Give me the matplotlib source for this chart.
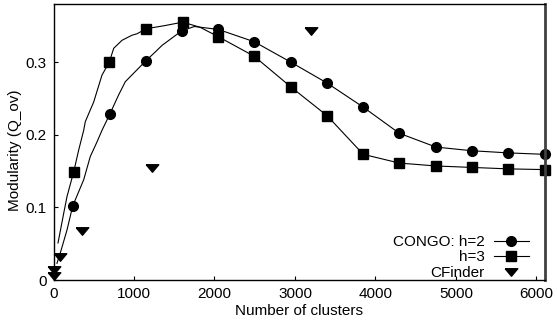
import matplotlib
matplotlib.use("Agg")
import matplotlib.pyplot as plt

## marker points
h2_x = [239, 698, 1149, 1592, 2047, 2494, 2947, 3401, 3848, 4296, 4752, 5195, 5650, 6106]
h2_y = [0.102, 0.228, 0.302, 0.343, 0.345, 0.328, 0.300, 0.271, 0.238, 0.202, 0.183, 0.178, 0.175, 0.173]

h3_x = [251, 693, 1153, 1605, 2047, 2494, 2947, 3401, 3848, 4296, 4752, 5195, 5650, 6106]
h3_y = [0.149, 0.300, 0.346, 0.355, 0.335, 0.308, 0.266, 0.226, 0.173, 0.161, 0.157, 0.155, 0.153, 0.152]

cf_x = [0, 10, 81, 350, 1227, 3195]
cf_y = [0.005, 0.014, 0.031, 0.067, 0.154, 0.343]

## line traces (the curves drawn between the markers)
h2_line_x = [43, 84, 168, 239, 375, 457, 540, 602, 698, 810, 892, 1016, 1149, 1265, 1348, 1592,
             1750, 2047, 2494, 2947, 3401, 3848, 4296, 4752, 5195, 5650, 6106]
h2_line_y = [0.023, 0.037, 0.069, 0.102, 0.138, 0.170, 0.190, 0.206, 0.228, 0.255, 0.273, 0.287, 0.302, 0.314, 0.323, 0.343,
             0.349, 0.345, 0.328, 0.300, 0.271, 0.238, 0.202, 0.183, 0.178, 0.175, 0.173]

h3_line_x = [56, 127, 168, 251, 313, 375, 395, 499, 602, 693, 748, 851, 975, 1037, 1153, 1370, 1605,
             1820, 2047, 2494, 2947, 3401, 3848, 4296, 4752, 5195, 5650, 6106]
h3_line_y = [0.051, 0.092, 0.115, 0.149, 0.179, 0.206, 0.218, 0.245, 0.282, 0.300, 0.319, 0.330, 0.337, 0.339, 0.346, 0.350, 0.355,
             0.348, 0.335, 0.308, 0.266, 0.226, 0.173, 0.161, 0.157, 0.155, 0.153, 0.152]

x_ticks = [0, 1000, 2000, 3000, 4000, 5000, 6000]
y_ticks = [0, 0.1, 0.2, 0.3]
y_tick_labels = ["0", "0.1", "0.2", "0.3"]

plt.rcParams['font.family'] = ['Liberation Sans', 'DejaVu Sans']
plt.rcParams['font.size'] = 11

## flat down-pointing triangle like the gnuplot one
tri = [(-1, 0.6), (1, 0.6), (0, -0.6), (-1, 0.6)]

fig = plt.figure(figsize=(5.57, 3.21), dpi=100)
ax = fig.add_axes([53.5/557, 41/321, (545-53.5)/557, 276/321])

ax.plot(h2_line_x, h2_line_y, color="black", lw=0.8)
ax.plot(h3_line_x, h3_line_y, color="black", lw=0.8)
ax.plot(h2_x, h2_y, "ko", markersize=7, clip_on=False)
ax.plot(h3_x, h3_y, "ks", markersize=6.5, clip_on=False)
ax.plot(cf_x, cf_y, "k", marker=tri, ls="none", markersize=9, clip_on=False)

## legend proxies
l1, = ax.plot([], [], "k-o", lw=0.8, markersize=7)
l2, = ax.plot([], [], "k-s", lw=0.8, markersize=6.5)
l3, = ax.plot([], [], "k", marker=tri, ls="none", markersize=9)
leg = ax.legend([l1, l2, l3], ["CONGO: h=2", "h=3", "CFinder"], loc="lower right",
                bbox_to_anchor=(0.967, 0.0), frameon=False, markerfirst=False,
                handlelength=2.3, handletextpad=0.6, labelspacing=0.1,
                borderaxespad=0, borderpad=0, fontsize=11)
for t in leg.get_texts():
    t.set_ha("right")
leg._legend_box.align = "right"

ax.set_xlim(0, 6106)
ax.set_ylim(0, 0.38)
ax.set_xticks(x_ticks)
ax.set_yticks(y_ticks)
ax.set_yticklabels(y_tick_labels)
ax.tick_params(direction="in", length=3, width=0.8, pad=5)
ax.set_xlabel("Number of clusters", labelpad=2)
ax.set_ylabel("Modularity (Q_ov)")
ax.yaxis.set_label_coords(-0.064, 0.47)

for s in ["left", "bottom", "top"]:
    ax.spines[s].set_linewidth(1.0)
ax.spines["right"].set_color("#404040")
ax.spines["right"].set_linewidth(2)

fig.savefig("out.png", dpi=100)
